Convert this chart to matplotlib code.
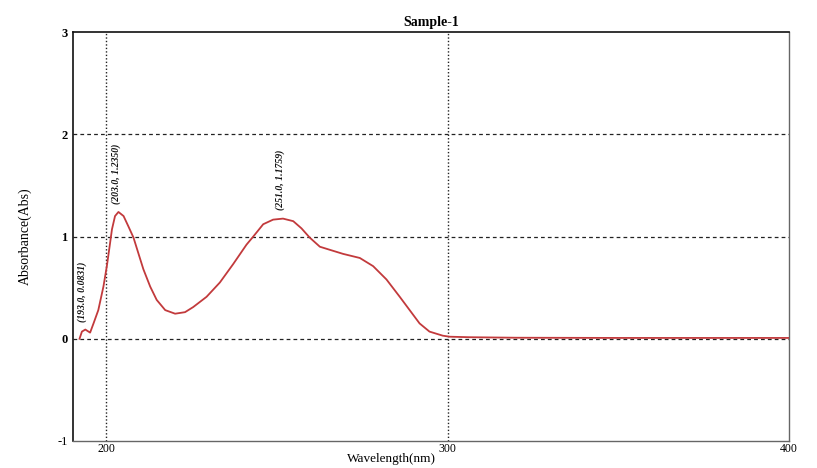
import matplotlib
matplotlib.use("Agg")
import matplotlib.pyplot as plt

# spectrum
wavelength = [192.2, 192.9, 193.9, 195.3, 196.3, 197.7, 199.2, 200.2, 201.0, 201.7,
              202.6, 203.6, 205.1, 206.5, 208.0, 209.4, 210.9, 212.9, 214.8, 217.3,
              220.2, 223.1, 225.5, 229.4, 233.3, 237.2, 241.1, 243.1, 246.0, 248.9,
              251.8, 254.8, 257.2, 259.6, 262.6, 265.5, 269.4, 274.3, 278.2, 282.1,
              286.0, 288.9, 291.8, 294.7, 298.6, 300.6, 306.4, 320.0, 350.0, 400.0]
absorbance = [0.00, 0.07, 0.09, 0.06, 0.15, 0.28, 0.51, 0.71, 0.90, 1.07,
              1.20, 1.24, 1.20, 1.10, 0.99, 0.84, 0.68, 0.51, 0.38, 0.28,
              0.245, 0.26, 0.31, 0.41, 0.55, 0.73, 0.92, 1.00, 1.12, 1.165,
              1.175, 1.15, 1.08, 0.99, 0.90, 0.87, 0.83, 0.79, 0.71, 0.58,
              0.41, 0.28, 0.15, 0.07, 0.03, 0.02, 0.015, 0.01, 0.008, 0.008]

peak_x = [193.0, 203.0, 251.0]
peak_y = [0.0831, 1.2350, 1.1759]
peak_labels = ["(193.0, 0.0831)", "(203.0, 1.2350)", "(251.0, 1.1759)"]

x_ticks = [200, 300, 400]
y_ticks = [-1, 0, 1, 2, 3]
y_tick_labels = ["-1", "0", "1", "2", "3"]
h_grid = [0, 1, 2]
v_grid = [200, 300]

plt.rcParams["font.family"] = ["Liberation Serif", "DejaVu Serif"]

fig = plt.figure(figsize=(8.17, 4.68), dpi=100)
ax = fig.add_axes([0.0894, 0.0577, 0.8763, 0.8739])

for g in h_grid:
    ax.axhline(g, color="#222222", lw=0.9, ls=(0, (3, 2.5)), zorder=1)
for g in v_grid:
    ax.axvline(g, color="#222222", lw=1.0, ls=(0, (1, 1.5)), zorder=1)

ax.plot(wavelength, absorbance, color="#c23a3c", lw=1.3, zorder=3,
        solid_joinstyle="round")

for px, py, lab in zip(peak_x, peak_y, peak_labels):
    ax.annotate(lab, (px, py), xytext=(0, 6), textcoords="offset points",
                rotation=90, ha="center", va="bottom", fontsize=7,
                fontweight="bold", fontstyle="italic", color="#111111")

ax.set_xlim(190.3, 400)
ax.set_ylim(-1, 3)
ax.set_xticks(x_ticks)
ax.set_yticks(y_ticks)
ax.set_yticklabels(y_tick_labels)
ax.tick_params(length=0, labelsize=9)
ax.tick_params(axis="x", pad=1.5, labelsize=8.5)
ax.tick_params(axis="y", pad=4)
for t, w in zip(ax.get_yticklabels(), ["normal", "bold", "bold", "bold", "bold"]):
    t.set_fontweight(w)

for side in ["left", "top"]:
    ax.spines[side].set_color("#111111")
    ax.spines[side].set_linewidth(1.2)
for side in ["right", "bottom"]:
    ax.spines[side].set_color("#666666")
    ax.spines[side].set_linewidth(1.0)

ax.set_title("Sample-1", fontsize=10, fontweight="bold", pad=4)
ax.set_xlabel("Wavelength(nm)", fontsize=9.5)
ax.xaxis.set_label_coords(0.445, -0.03, transform=ax.transAxes)
ax.xaxis.label.set_va("top")
ax.set_ylabel("Absorbance(Abs)", fontsize=10, labelpad=18)

fig.savefig("out.png", dpi=100, facecolor="white")
